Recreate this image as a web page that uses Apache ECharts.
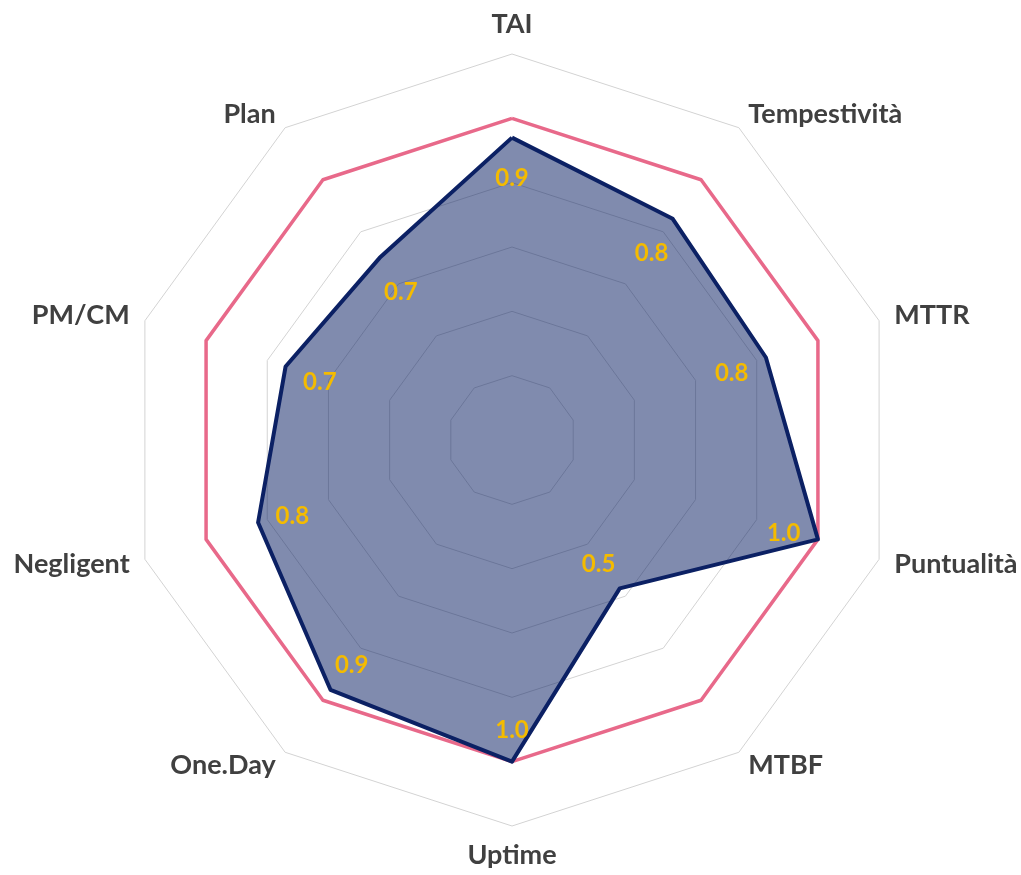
<!DOCTYPE html>
<html>
<head>
<meta charset="utf-8">
<script src="https://cdn.jsdelivr.net/npm/echarts@6/dist/echarts.min.js"></script>
<style>
    html, body { margin: 0; background: #fff; }
    #radarChart { width: 1021px; height: 875px; }
</style>
</head>
<body>
<!-- radar KPI -->
<div id="radarChart"></div>
<script>
// categorie in senso orario, partendo dall'alto
const categories = ['TAI', 'Tempestività', 'MTTR', 'Puntualità', 'MTBF', 'Uptime', 'One.Day', 'Negligent', 'PM/CM', 'Plan'];
const actual = [0.94, 0.85, 0.83, 1.0, 0.57, 1.0, 0.96, 0.83, 0.74, 0.70];
const target = [1, 1, 1, 1, 1, 1, 1, 1, 1, 1];
const axisMax = 1.2;
const splitCount = 6;

const center = [512, 440];

// echarts mette gli indicatori in senso antiorario: giro l'ordine
function ccw(arr) {
    return [arr[0]].concat(arr.slice(1).reverse());
}

function initRadarChart() {
    var chartDom = document.getElementById('radarChart');
    var myChart = echarts.init(chartDom);
    var option;

    const indicators = ccw(categories).map(name => ({ name: name, max: axisMax, min: 0 }));

    option = {
        animation: false,
        radar: {
            center: center,
            radius: 386,
            startAngle: 90,
            splitNumber: splitCount,
            shape: 'polygon',
            indicator: indicators,
            axisNameGap: 16,
            axisName: {
                fontFamily: 'Lato',
                fontWeight: 'bold',
                fontSize: 27,
                color: '#404040'
            },
            axisLine: { show: false },
            axisTick: { show: false },
            axisLabel: { show: false },
            splitArea: { show: false },
            splitLine: { lineStyle: { color: '#d3d3d3', width: 1 } }
        },
        series: [
            {
                name: 'Target',
                type: 'radar',
                symbol: 'none',
                lineStyle: { color: '#e8698a', width: 3.5 },
                data: [{ value: ccw(target) }]
            },
            {
                name: 'Valore',
                type: 'radar',
                symbol: 'circle',
                symbolSize: 1,
                itemStyle: { color: 'rgba(0,0,0,0)', borderWidth: 0 },
                lineStyle: { color: '#0c2164', width: 4 },
                areaStyle: { color: 'rgba(12, 33, 100, 0.52)', opacity: 1 },
                label: {
                    show: true,
                    position: 'inside',
                    color: '#f4bb00',
                    fontFamily: 'Lato',
                    fontWeight: 'bold',
                    fontSize: 24,
                    // etichetta troncata a un decimale
                    formatter: p => (Math.floor(p.value * 10 + 1e-6) / 10).toFixed(1)
                },
                // sposta le etichette verso il centro
                labelLayout: function (p) {
                    const x = p.rect.x + p.rect.width / 2 - center[0];
                    const y = p.rect.y + p.rect.height / 2 - center[1];
                    const d = Math.sqrt(x * x + y * y) || 1;
                    return { dx: -x / d * 36, dy: -y / d * 36 + 5 };
                },
                data: [{ value: ccw(actual) }]
            }
        ]
    };

    option && myChart.setOption(option);
}

initRadarChart();
</script>
</body>
</html>
